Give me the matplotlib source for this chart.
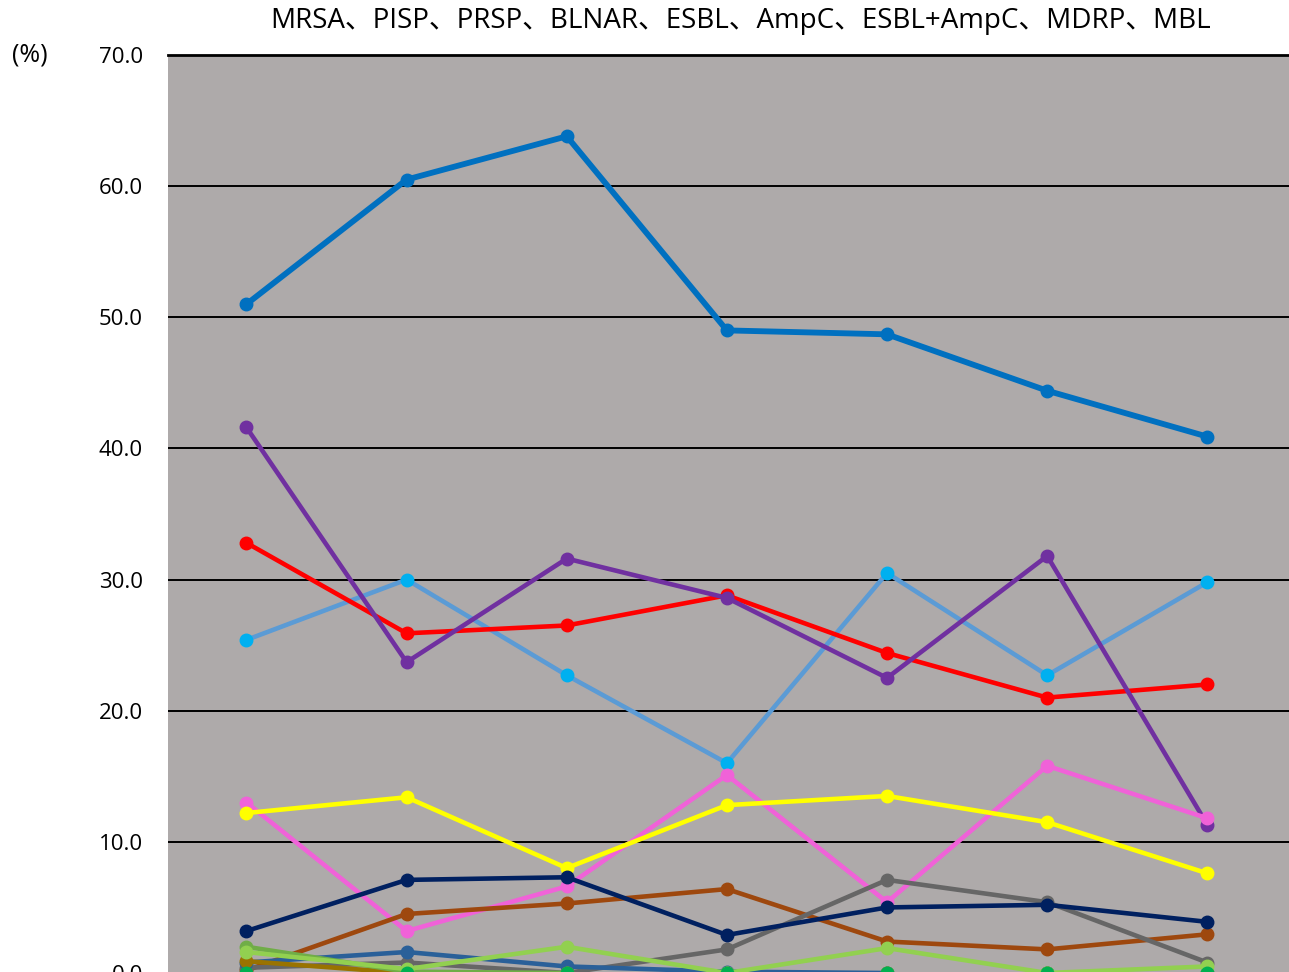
import matplotlib
matplotlib.use("Agg")
import matplotlib.pyplot as plt

plt.rcParams['font.family'] = ['Open Sans', 'Noto Sans CJK JP', 'DejaVu Sans']

categories = ["1", "2", "3", "4", "5", "6", "7"]
title_text = "MRSA、PISP、PRSP、BLNAR、ESBL、AmpC、ESBL+AmpC、MDRP、MBL"
yticks = [0, 10, 20, 30, 40, 50, 60, 70]

s_lightblue = [25.4, 30.0, 22.7, 16.0, 30.5, 22.7, 29.8]
s_red = [32.8, 25.9, 26.5, 28.8, 24.4, 21.0, 22.0]
s_purple = [41.6, 23.7, 31.6, 28.6, 22.5, 31.8, 11.3]
s_pink = [13.0, 3.2, 6.6, 15.1, 5.4, 15.8, 11.8]
s_yellow = [12.2, 13.4, 8.0, 12.8, 13.5, 11.5, 7.6]
s_brown = [0.2, 4.5, 5.3, 6.4, 2.4, 1.8, 2.95]
s_gray = [0.4, 0.8, 0.0, 1.8, 7.1, 5.4, 0.8]
s_navy = [3.2, 7.1, 7.3, 2.9, 5.0, 5.2, 3.9]
s_steel = [0.8, 1.6, 0.5, 0.1, 0.0, 0.0, 0.0]
s_gold = [0.9, 0.0, 0.0, 0.0, 0.0, 0.0, 0.0]
s_olive = [2.0, 0.1, 0.0, 0.0, 0.0, 0.0, 0.0]
s_lightgreen = [1.6, 0.3, 2.0, 0.0, 1.9, 0.0, 0.5]
s_green = [0.0, 0.0, 0.0, 0.0, 0.0, 0.0, 0.0]
s_blue = [51.0, 60.5, 63.8, 49.0, 48.7, 44.4, 40.9]

# (values, line colour, marker colour, line width)
series = [
    (s_lightblue, "#5B9BD5", "#00B0F0", 3.3),
    (s_red, "#FF0000", "#FF0000", 3.3),
    (s_purple, "#7030A0", "#7030A0", 3.3),
    (s_pink, "#F062D8", "#F062D8", 3.3),
    (s_yellow, "#FFFF00", "#FFFF00", 3.3),
    (s_brown, "#9E480E", "#9E480E", 3.3),
    (s_gray, "#666666", "#666666", 3.3),
    (s_navy, "#002060", "#002060", 3.3),
    (s_steel, "#2A6099", "#2A6099", 3.3),
    (s_gold, "#997300", "#997300", 3.3),
    (s_olive, "#70AD47", "#70AD47", 3.3),
    (s_lightgreen, "#92D050", "#92D050", 3.3),
    (s_green, "#00B050", "#00B050", 3.3),
    (s_blue, "#0070C0", "#0070C0", 4.2),
]

W, H = 1289, 972
fig = plt.figure(figsize=(W / 100, H / 100), dpi=100)
ax_left = 168 / W
ax_top = 1 - 55 / H
ax_bottom = 1 - 973 / H
ax = fig.add_axes([ax_left, ax_bottom, 1 - ax_left, ax_top - ax_bottom])
ax.set_facecolor("#AEAAAA")

x = list(range(len(categories)))
for vals, lc, mc, lw in series:
    ax.plot(x, vals, color=lc, lw=lw, marker="o", markersize=9,
            markerfacecolor=mc, markeredgecolor=mc, solid_capstyle="round",
            clip_on=False)

ax.set_xlim(-0.49, 6.51)
ax.set_ylim(0, 70)
ax.set_yticks(yticks)
ax.set_yticklabels([f"{v:.1f}" for v in yticks], fontsize=16)
ax.set_xticks(x)
ax.set_xticklabels(categories)
ax.tick_params(axis="y", length=0, pad=18)
ax.tick_params(axis="x", length=0, labelbottom=False)
ax.yaxis.grid(True, color="black", lw=1.4)
ax.set_axisbelow(True)
for s in ["left", "right", "bottom"]:
    ax.spines[s].set_visible(False)
ax.spines["top"].set_color("black")
ax.spines["top"].set_linewidth(2.0)

fig.text(741 / W, 1 - 21 / H, title_text, ha="center", va="center", fontsize=20)
fig.text(12 / W, 1 - 55 / H, "(%)", ha="left", va="center", fontsize=18)

fig.savefig("out.png", dpi=100)
